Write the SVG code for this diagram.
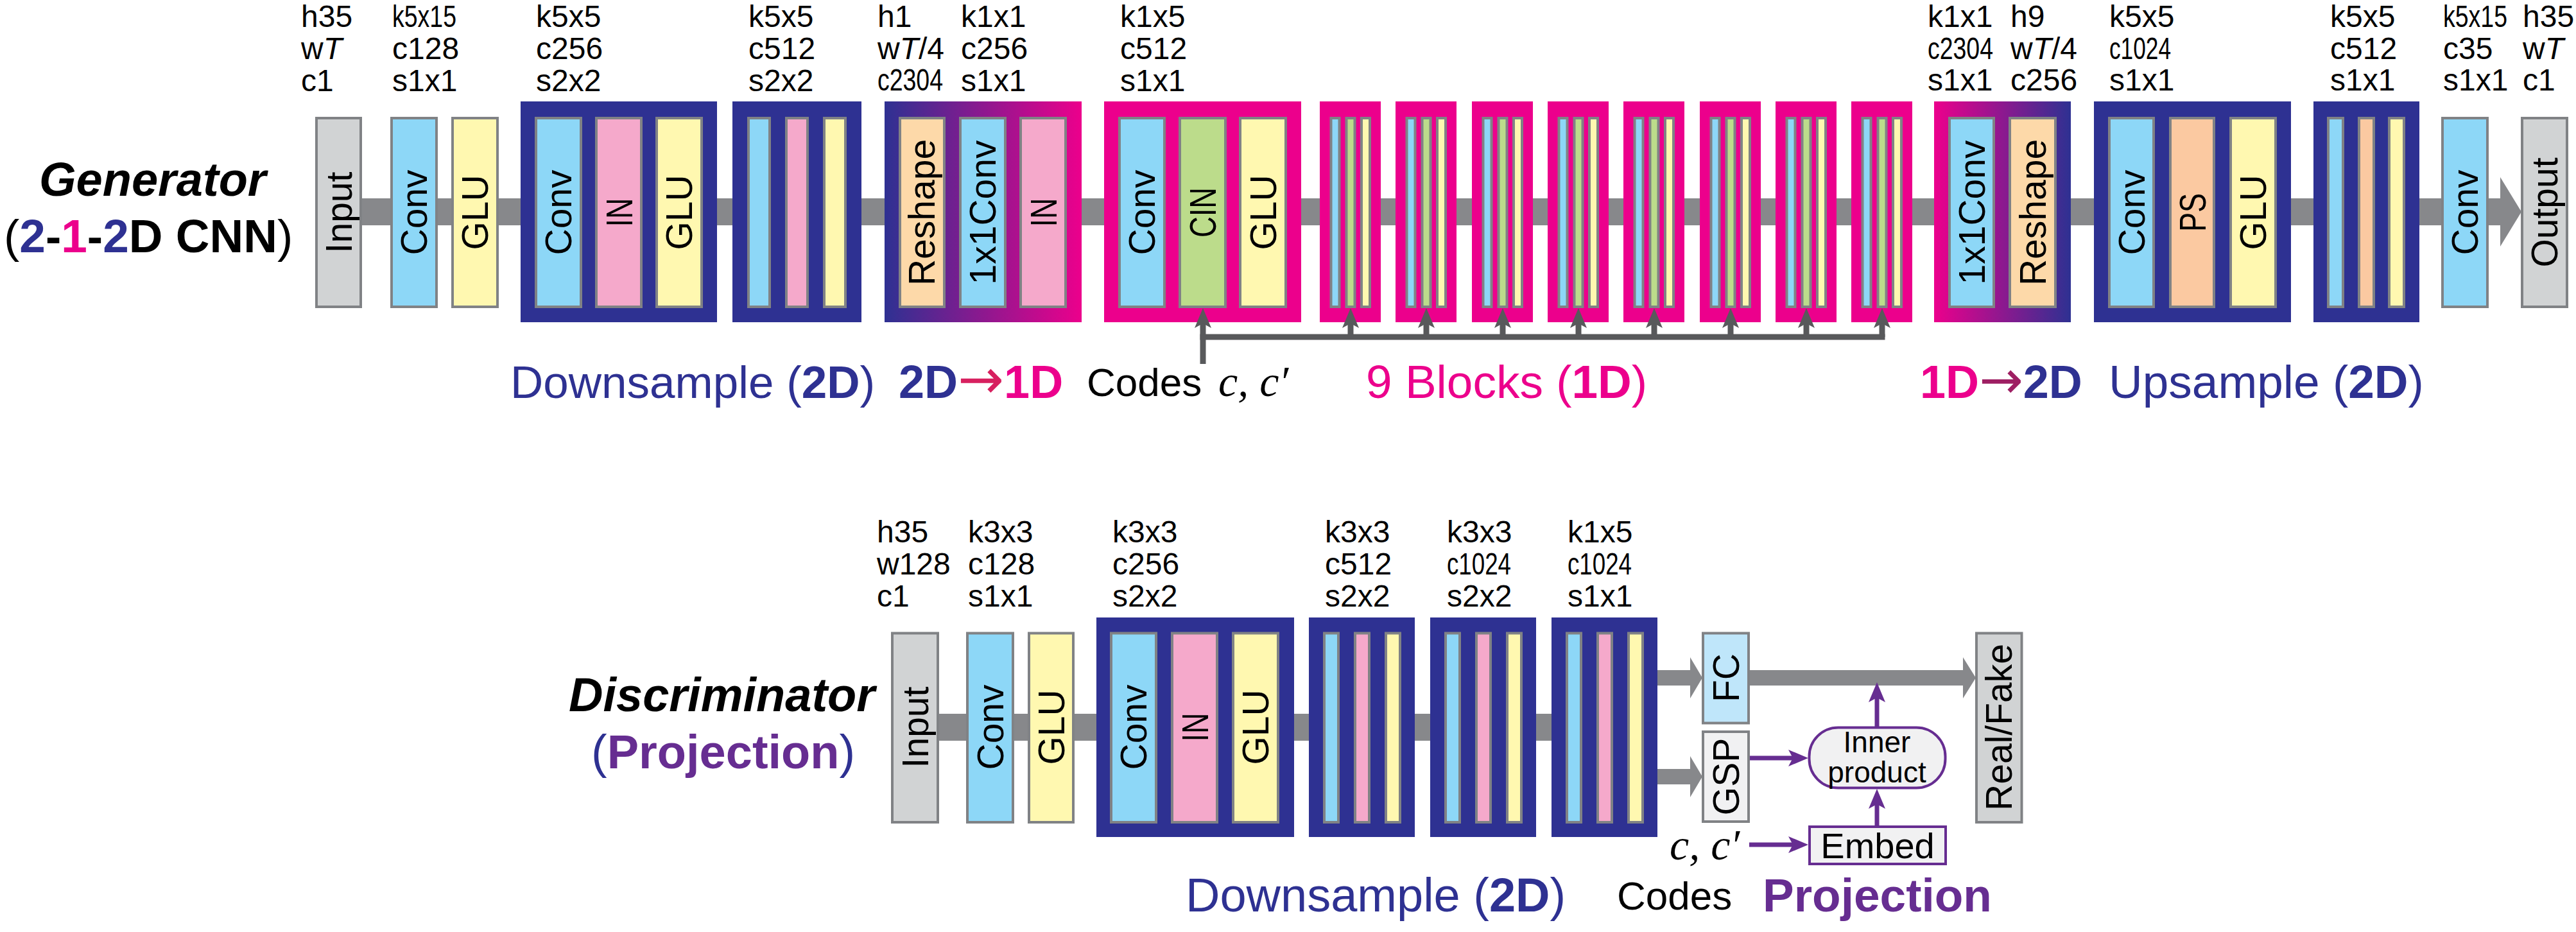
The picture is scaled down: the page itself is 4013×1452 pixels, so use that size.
<svg xmlns="http://www.w3.org/2000/svg" xmlns:xlink="http://www.w3.org/1999/xlink" width="4013" height="1452" viewBox="0 0 4013 1452">
<defs>
<style>
text{font-family:"Liberation Sans",Arial,Helvetica,sans-serif}
.b{stroke:#808285;stroke-width:4}
.bl{fill:#8dd7f7}
.ye{fill:#fff8b0}
.pk{fill:#f5a9cb}
.gy{fill:#d1d3d4}
.gr{fill:#bcdc8b}
.pe{fill:#fdd9a9}
.sa{fill:#fbc9a1}
.lg{fill:#f1f1f2}
.fc{fill:#bfe6fa}
.nv{fill:#2e3192}
.mg{fill:#ec008c}
.lb{font-size:57px;text-anchor:middle;fill:#000}
.sp{font-size:48px;fill:#000}
.it{font-style:italic}
.bd{font-weight:bold}
.arr{font-family:"DejaVu Sans",sans-serif;font-weight:normal}
.code{stroke:#58595b;stroke-width:9;fill:none}
.pu{stroke:#662d91;stroke-width:7;fill:none}
.bar{fill:#87888b}
.ser{font-family:"Liberation Serif","Times New Roman",serif;font-style:italic}
.pbox{fill:#f1f1f2;stroke:#662d91;stroke-width:4}
</style>
<linearGradient id="g21" x1="0" y1="0" x2="1" y2="0"><stop offset="0" stop-color="#2e3192"/><stop offset="1" stop-color="#ec008c"/></linearGradient>
<linearGradient id="g12" x1="0" y1="0" x2="1" y2="0"><stop offset="0" stop-color="#ec008c"/><stop offset="1" stop-color="#2e3192"/></linearGradient>
<marker id="ahg" markerUnits="userSpaceOnUse" orient="auto" overflow="visible" refX="0" refY="0" markerWidth="32" markerHeight="28"><path d="M24,0 L-7,-13 L0,0 L-7,13 Z" fill="#58595b"/></marker>
<marker id="ahp" markerUnits="userSpaceOnUse" orient="auto" overflow="visible" refX="0" refY="0" markerWidth="32" markerHeight="28"><path d="M24,0 L-7,-13 L0,0 L-7,13 Z" fill="#662d91"/></marker>
<g id="blk1d"><rect class="mg" x="0" y="158" width="95" height="344"/><rect class="b bl" x="17.5" y="184" width="13" height="294"/><rect class="b gr" x="41.5" y="184" width="13" height="294"/><rect class="b ye" x="65" y="184" width="13" height="294"/></g>
<g id="blkd"><rect class="nv" x="0" y="962" width="165" height="342"/><rect class="b bl" x="24" y="986.5" width="22" height="294.5"/><rect class="b pk" x="72" y="986.5" width="22" height="294.5"/><rect class="b ye" x="120" y="986.5" width="22" height="294.5"/></g>
</defs>
<rect width="4013" height="1452" fill="#fff"/>

<!-- ===== Generator ===== -->
<g id="gen-title">
<text x="61" y="305" font-size="74" class="bd it">Generator</text>
<text x="6" y="393" font-size="73">(<tspan class="bd" fill="#2e3192">2</tspan><tspan class="bd">-</tspan><tspan class="bd" fill="#ec008c">1</tspan><tspan class="bd">-</tspan><tspan class="bd" fill="#2e3192">2</tspan><tspan class="bd">D CNN</tspan>)</text>
</g>

<g id="gen-connectors">
<path class="bar" d="M564,309 H3895 V276 L3928,330 L3895,384 V351 H564 Z"/>
</g>

<g id="g-input">
<rect class="b gy" x="493" y="184" width="69" height="294"/>
<text class="lb" transform="translate(547.5,331) rotate(-90)">Input</text>
<text class="sp" x="469" y="42">h35<tspan x="469" dy="50">w<tspan class="it">T</tspan></tspan><tspan x="469" dy="50">c1</tspan></text>
</g>
<g id="g-conv1">
<rect class="b bl" x="610" y="184" width="70" height="294"/>
<text class="lb" transform="translate(665,331) rotate(-90)">Conv</text>
<text class="sp" x="611" y="42" textLength="100" lengthAdjust="spacingAndGlyphs">k5x15</text>
<text class="sp" x="611" y="92">c128<tspan x="611" dy="50">s1x1</tspan></text>
</g>
<g id="g-glu1">
<rect class="b ye" x="705" y="184" width="70" height="294"/>
<text class="lb" transform="translate(760,331) rotate(-90)">GLU</text>
</g>
<g id="g-down1">
<rect class="nv" x="811" y="158" width="306" height="344"/>
<rect class="b bl" x="835" y="184" width="70" height="294"/>
<rect class="b pk" x="929" y="184" width="70" height="294"/>
<rect class="b ye" x="1023" y="184" width="70" height="294"/>
<text class="lb" transform="translate(890,331) rotate(-90)">Conv</text>
<text class="lb" font-size="60" transform="translate(985,331) rotate(-90)" textLength="45" lengthAdjust="spacingAndGlyphs">IN</text>
<text class="lb" transform="translate(1078,331) rotate(-90)">GLU</text>
<text class="sp" x="835" y="42">k5x5<tspan x="835" dy="50">c256</tspan><tspan x="835" dy="50">s2x2</tspan></text>
</g>
<g id="g-down2">
<rect class="nv" x="1141" y="158" width="201" height="344"/>
<rect class="b bl" x="1166" y="184" width="33" height="294"/>
<rect class="b pk" x="1225" y="184" width="33" height="294"/>
<rect class="b ye" x="1284" y="184" width="33" height="294"/>
<text class="sp" x="1166" y="42">k5x5<tspan x="1166" dy="50">c512</tspan><tspan x="1166" dy="50">s2x2</tspan></text>
</g>
<g id="g-2dto1d">
<rect fill="url(#g21)" x="1378" y="158" width="307" height="344"/>
<rect class="b pe" x="1402" y="184" width="69" height="294"/>
<rect class="b bl" x="1496" y="184" width="70" height="294"/>
<rect class="b pk" x="1590" y="184" width="70" height="294"/>
<text class="lb" transform="translate(1456,331) rotate(-90)">Reshape</text>
<text class="lb" transform="translate(1551,331) rotate(-90)">1x1Conv</text>
<text class="lb" font-size="60" transform="translate(1646,331) rotate(-90)" textLength="45" lengthAdjust="spacingAndGlyphs">IN</text>
<text class="sp" x="1367" y="42">h1<tspan x="1367" dy="50">w<tspan class="it">T</tspan>/4</tspan></text>
<text class="sp" x="1367" y="141" textLength="102" lengthAdjust="spacingAndGlyphs">c2304</text>
<text class="sp" x="1497" y="42">k1x1<tspan x="1497" dy="50">c256</tspan><tspan x="1497" dy="50">s1x1</tspan></text>
</g>
<g id="g-block1">
<rect class="mg" x="1720" y="158" width="307" height="344"/>
<rect class="b bl" x="1744" y="184" width="70" height="294"/>
<rect class="b gr" x="1838" y="184" width="71" height="294"/>
<rect class="b ye" x="1932" y="184" width="71" height="294"/>
<text class="lb" transform="translate(1799,331) rotate(-90)">Conv</text>
<text class="lb" font-size="58" transform="translate(1894,331) rotate(-90)" textLength="78" lengthAdjust="spacingAndGlyphs">CIN</text>
<text class="lb" transform="translate(1987.5,331) rotate(-90)">GLU</text>
<text class="sp" x="1745" y="42">k1x5<tspan x="1745" dy="50">c512</tspan><tspan x="1745" dy="50">s1x1</tspan></text>
</g>
<g id="g-block2"><use xlink:href="#blk1d" href="#blk1d" x="2056"/></g>
<g id="g-block3"><use xlink:href="#blk1d" href="#blk1d" x="2174"/></g>
<g id="g-block4"><use xlink:href="#blk1d" href="#blk1d" x="2293"/></g>
<g id="g-block5"><use xlink:href="#blk1d" href="#blk1d" x="2411"/></g>
<g id="g-block6"><use xlink:href="#blk1d" href="#blk1d" x="2529"/></g>
<g id="g-block7"><use xlink:href="#blk1d" href="#blk1d" x="2648"/></g>
<g id="g-block8"><use xlink:href="#blk1d" href="#blk1d" x="2766"/></g>
<g id="g-block9"><use xlink:href="#blk1d" href="#blk1d" x="2884"/></g>
<g id="g-1dto2d">
<rect fill="url(#g12)" x="3013" y="158" width="213" height="344"/>
<rect class="b bl" x="3037" y="184" width="69" height="294"/>
<rect class="b pe" x="3131" y="184" width="71" height="294"/>
<text class="lb" transform="translate(3092,331) rotate(-90)">1x1Conv</text>
<text class="lb" transform="translate(3186.5,331) rotate(-90)">Reshape</text>
<text class="sp" x="3003" y="42">k1x1</text>
<text class="sp" x="3003" y="92" textLength="102" lengthAdjust="spacingAndGlyphs">c2304</text>
<text class="sp" x="3003" y="141">s1x1</text>
<text class="sp" x="3132" y="42">h9<tspan x="3132" dy="50">w<tspan class="it">T</tspan>/4</tspan><tspan x="3132" dy="49">c256</tspan></text>
</g>
<g id="g-up1">
<rect class="nv" x="3262" y="158" width="307" height="344"/>
<rect class="b bl" x="3286" y="184" width="69" height="294"/>
<rect class="b sa" x="3381" y="184" width="68" height="294"/>
<rect class="b ye" x="3475" y="184" width="70" height="294"/>
<text class="lb" transform="translate(3340.5,331) rotate(-90)">Conv</text>
<text class="lb" font-size="58" transform="translate(3436,331) rotate(-90)" textLength="60" lengthAdjust="spacingAndGlyphs">PS</text>
<text class="lb" transform="translate(3530,331) rotate(-90)">GLU</text>
<text class="sp" x="3286" y="42">k5x5</text>
<text class="sp" x="3286" y="92" textLength="96" lengthAdjust="spacingAndGlyphs">c1024</text>
<text class="sp" x="3286" y="141">s1x1</text>
</g>
<g id="g-up2">
<rect class="nv" x="3604" y="158" width="165" height="344"/>
<rect class="b bl" x="3627" y="184" width="23" height="294"/>
<rect class="b sa" x="3675" y="184" width="23" height="294"/>
<rect class="b ye" x="3722" y="184" width="23" height="294"/>
<text class="sp" x="3630" y="42">k5x5<tspan x="3630" dy="50">c512</tspan><tspan x="3630" dy="49">s1x1</tspan></text>
</g>
<g id="g-conv2">
<rect class="b bl" x="3805" y="184" width="70" height="294"/>
<text class="lb" transform="translate(3860,331) rotate(-90)">Conv</text>
<text class="sp" x="3806" y="42" textLength="100" lengthAdjust="spacingAndGlyphs">k5x15</text>
<text class="sp" x="3806" y="92">c35<tspan x="3806" dy="49">s1x1</tspan></text>
</g>
<g id="g-output">
<rect class="b gy" x="3929" y="184" width="70" height="294"/>
<text class="lb" transform="translate(3984,331) rotate(-90)">Output</text>
<text class="sp" x="3930" y="42">h35<tspan x="3930" dy="50">w<tspan class="it">T</tspan></tspan><tspan x="3930" dy="49">c1</tspan></text>
</g>

<g id="gen-code-connectors">
<path class="code" d="M1869.5,525 H2936.5"/>
<path class="code" d="M1874,567 V504" marker-end="url(#ahg)"/>
<path class="code" d="M2104,525 V504" marker-end="url(#ahg)"/>
<path class="code" d="M2222,525 V504" marker-end="url(#ahg)"/>
<path class="code" d="M2341,525 V504" marker-end="url(#ahg)"/>
<path class="code" d="M2459,525 V504" marker-end="url(#ahg)"/>
<path class="code" d="M2577,525 V504" marker-end="url(#ahg)"/>
<path class="code" d="M2696,525 V504" marker-end="url(#ahg)"/>
<path class="code" d="M2814,525 V504" marker-end="url(#ahg)"/>
<path class="code" d="M2932,525 V504" marker-end="url(#ahg)"/>
</g>

<g id="gen-labels">
<text x="795" y="620" font-size="71" fill="#2e3192">Downsample (<tspan class="bd">2D</tspan>)</text>
<text x="1400" y="620" font-size="72" class="bd"><tspan fill="#2e3192">2D</tspan><tspan class="arr" font-size="86" fill="#d7205f">→</tspan><tspan fill="#ec008c">1D</tspan></text>
<text x="1693" y="617" font-size="62">Codes</text>
<text x="1898" y="617" font-size="68" class="ser">c, c′</text>
<text x="2128" y="620" font-size="73" fill="#ec008c">9 Blocks (<tspan class="bd">1D</tspan>)</text>
<text x="2991" y="620" font-size="72" class="bd"><tspan fill="#ec008c">1D</tspan><tspan class="arr" font-size="82" fill="#9e1f63">→</tspan><tspan fill="#2e3192">2D</tspan></text>
<text x="3285" y="620" font-size="73" fill="#2e3192">Upsample (<tspan class="bd">2D</tspan>)</text>
</g>

<!-- ===== Discriminator ===== -->
<g id="disc-title">
<text x="886" y="1108" font-size="74" class="bd it">Discriminator</text>
<text x="921" y="1197" font-size="74" fill="#2e3192">(<tspan class="bd" fill="#662d91">Projection</tspan>)</text>
</g>

<g id="disc-connectors">
<rect class="bar" x="1463" y="1112" width="954" height="42"/>
<path class="bar" d="M2582,1044 H2633 V1024 L2652,1056 L2633,1088 V1068 H2582 Z"/>
<path class="bar" d="M2582,1198 H2633 V1178 L2652,1210 L2633,1242 V1222 H2582 Z"/>
<path class="bar" d="M2726,1044 H3058 V1024 L3078,1056 L3058,1088 V1068 H2726 Z"/>
<path class="pu" d="M2726,1181 H2793" marker-end="url(#ahp)"/>
<path class="pu" d="M2725,1316 H2793" marker-end="url(#ahp)"/>
<path class="pu" d="M2924,1286 V1253" marker-end="url(#ahp)"/>
<path class="pu" d="M2924,1132 V1087" marker-end="url(#ahp)"/>
</g>

<g id="d-input">
<rect class="b gy" x="1390" y="986.5" width="71" height="294.5"/>
<text class="lb" transform="translate(1445.5,1133) rotate(-90)">Input</text>
<text class="sp" x="1366" y="845">h35<tspan x="1366" dy="50">w128</tspan><tspan x="1366" dy="50">c1</tspan></text>
</g>
<g id="d-conv1">
<rect class="b bl" x="1507" y="986.5" width="71" height="294.5"/>
<text class="lb" transform="translate(1562.5,1133) rotate(-90)">Conv</text>
<text class="sp" x="1508" y="845">k3x3<tspan x="1508" dy="50">c128</tspan><tspan x="1508" dy="50">s1x1</tspan></text>
</g>
<g id="d-glu1">
<rect class="b ye" x="1603" y="986.5" width="69" height="294.5"/>
<text class="lb" transform="translate(1657.5,1133) rotate(-90)">GLU</text>
</g>
<g id="d-down1">
<rect class="nv" x="1708" y="962" width="308" height="342"/>
<rect class="b bl" x="1731" y="986.5" width="70" height="294.5"/>
<rect class="b pk" x="1826" y="986.5" width="70" height="294.5"/>
<rect class="b ye" x="1921" y="986.5" width="70" height="294.5"/>
<text class="lb" transform="translate(1786,1133) rotate(-90)">Conv</text>
<text class="lb" font-size="60" transform="translate(1882,1133) rotate(-90)" textLength="45" lengthAdjust="spacingAndGlyphs">IN</text>
<text class="lb" transform="translate(1976,1133) rotate(-90)">GLU</text>
<text class="sp" x="1733" y="845">k3x3<tspan x="1733" dy="50">c256</tspan><tspan x="1733" dy="50">s2x2</tspan></text>
</g>
<g id="d-down2">
<use xlink:href="#blkd" href="#blkd" x="2039"/>
<text class="sp" x="2064" y="845">k3x3<tspan x="2064" dy="50">c512</tspan><tspan x="2064" dy="50">s2x2</tspan></text>
</g>
<g id="d-down3">
<use xlink:href="#blkd" href="#blkd" x="2228"/>
<text class="sp" x="2254" y="845">k3x3</text>
<text class="sp" x="2254" y="895" textLength="100" lengthAdjust="spacingAndGlyphs">c1024</text>
<text class="sp" x="2254" y="945">s2x2</text>
</g>
<g id="d-down4">
<use xlink:href="#blkd" href="#blkd" x="2417"/>
<text class="sp" x="2442" y="845">k1x5</text>
<text class="sp" x="2442" y="895" textLength="100" lengthAdjust="spacingAndGlyphs">c1024</text>
<text class="sp" x="2442" y="945">s1x1</text>
</g>
<g id="d-fc">
<rect class="b fc" x="2653" y="986.5" width="71" height="140"/>
<text class="lb" transform="translate(2708.5,1056) rotate(-90)">FC</text>
</g>
<g id="d-gsp">
<rect class="b lg" x="2653" y="1140" width="71" height="140"/>
<text class="lb" transform="translate(2708.5,1210) rotate(-90)">GSP</text>
</g>
<g id="d-inner">
<rect class="pbox" x="2818.5" y="1133.5" width="212" height="94" rx="45" ry="45"/>
<text x="2924" y="1172" font-size="46" text-anchor="middle">Inner</text>
<text x="2924" y="1219" font-size="46" text-anchor="middle">product</text>
</g>
<g id="d-embed">
<rect class="pbox" x="2819" y="1288" width="212" height="58"/>
<text x="2925" y="1337" font-size="56" text-anchor="middle">Embed</text>
</g>
<g id="d-realfake">
<rect class="b gy" x="3079" y="986.5" width="70.5" height="294.5"/>
<text class="lb" transform="translate(3134,1133) rotate(-90)">Real/Fake</text>
</g>
<g id="d-codes">
<text x="2601" y="1339" font-size="68" class="ser">c, c′</text>
</g>

<g id="disc-labels">
<text x="1847" y="1420" font-size="74" fill="#2e3192">Downsample (<tspan class="bd">2D</tspan>)</text>
<text x="2519" y="1417" font-size="62">Codes</text>
<text x="2746" y="1420" font-size="73" class="bd" fill="#662d91">Projection</text>
</g>
</svg>
